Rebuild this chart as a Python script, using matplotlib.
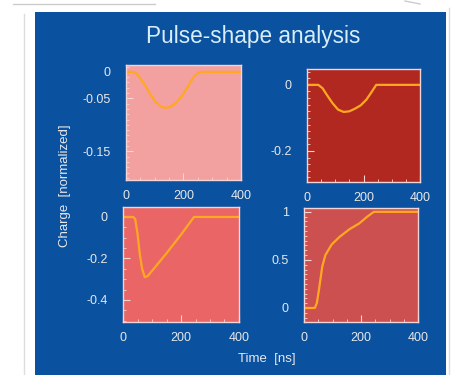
import matplotlib.pyplot as plt
from matplotlib.patches import Rectangle
from matplotlib.lines import Line2D
from matplotlib.ticker import MultipleLocator

plt.rcParams['font.family'] = ['Liberation Sans', 'DejaVu Sans']

# pulse shapes (time in ns, charge normalized)
t_a = [0, 20, 30, 40, 60, 80, 100, 120, 136, 155, 175, 195, 215, 235, 250, 262, 300, 400]
q_a = [0, 0, -0.001, -0.005, -0.02, -0.038, -0.055, -0.065, -0.068, -0.066, -0.058, -0.045, -0.028, -0.01, -0.002, 0, 0, 0]

t_b = [0, 40, 55, 70, 90, 110, 130, 150, 170, 190, 210, 230, 245, 400]
q_b = [0, 0, -0.01, -0.03, -0.055, -0.075, -0.082, -0.08, -0.072, -0.062, -0.045, -0.02, 0, 0]

t_c = [0, 35, 42, 50, 58, 66, 75, 85, 100, 150, 200, 245, 400]
q_c = [0, 0, -0.01, -0.08, -0.18, -0.25, -0.29, -0.285, -0.26, -0.175, -0.085, 0, 0]

t_d = [0, 38, 45, 52, 64, 75, 97, 125, 160, 194, 222, 245, 400]
q_d = [0, 0, 0.05, 0.18, 0.43, 0.55, 0.66, 0.74, 0.82, 0.88, 0.95, 1.0, 1.0]

panels = [
    (t_a, q_a, '#f2a0a0', (-0.204, 0.013), [0, -0.05, -0.15], ['0', '-0.05', '-0.15'], 0.01),
    (t_b, q_b, '#b02820', (-0.294, 0.048), [0, -0.2], ['0', '-0.2'], 0.02),
    (t_c, q_c, '#ea6666', (-0.506, 0.048), [0, -0.2, -0.4], ['0', '-0.2', '-0.4'], 0.05),
    (t_d, q_d, '#cc5050', (-0.146, 1.04), [0, 0.5, 1], ['0', '0.5', '1'], 0.05),
]

# axes boxes in pixels: left, top, right, bottom
boxes = [(126, 65, 241, 180), (307, 69, 420, 182), (123, 207, 239, 322), (304, 208, 418, 322)]

W, H = 458, 375
fig = plt.figure(figsize=(W / 100, H / 100), dpi=100)
fig.patch.set_facecolor('white')

# blue background panel and the faint frame lines
fig.patches.append(Rectangle((35 / W, 0), 411 / W, (H - 12) / H, transform=fig.transFigure,
                             facecolor='#0a51a0', edgecolor='none', zorder=-5))
fig.lines.append(Line2D([24 / W, 24 / W], [0, 1 - 14 / H], transform=fig.transFigure, color='#dddddd', lw=1, zorder=-5))
fig.lines.append(Line2D([449 / W, 449 / W], [0, 1 - 8 / H], transform=fig.transFigure, color='#dddddd', lw=1, zorder=-5))
fig.lines.append(Line2D([13 / W, 155 / W], [1 - 4 / H, 1 - 4 / H], transform=fig.transFigure, color='#cccccc', lw=1, zorder=-5))
fig.lines.append(Line2D([405 / W, 420 / W], [1 - 1 / H, 1 - 4 / H], transform=fig.transFigure, color='#cccccc', lw=1, zorder=-5))

for (t, q, face, ylim, yt, ylab, minor), (l, tp, r, b) in zip(panels, boxes):
    ax = fig.add_axes([l / W, 1 - b / H, (r - l) / W, (b - tp) / H])
    ax.set_facecolor(face)
    ax.plot(t, q, color='#ffa820', lw=1.6)
    ax.set_xlim(0, 400)
    ax.set_ylim(*ylim)
    ax.set_xticks([0, 200, 400])
    ax.set_xticklabels(['0', '200', '400'])
    ax.xaxis.set_minor_locator(MultipleLocator(50))
    ax.set_yticks(yt)
    ax.set_yticklabels(ylab)
    ax.yaxis.set_minor_locator(MultipleLocator(minor))
    ax.tick_params(which='both', direction='in', colors='#f4d4d4', labelcolor='#e8e8e8',
                   labelsize=9, top=False, right=False)
    ax.tick_params(which='major', length=5, width=0.8)
    ax.tick_params(which='minor', length=2.5, width=0.6)
    ax.tick_params(axis='y', which='major', pad=11)
    ax.tick_params(axis='x', which='major', pad=7)
    for s in ax.spines.values():
        s.set_color('#f4d4d4')
        s.set_linewidth(1)

fig.text(253 / W, 1 - 37 / H, 'Pulse-shape analysis', ha='center', va='center',
         color='#d8eef8', fontsize=16.3)
fig.text(65 / W, 1 - 186 / H, 'Charge  [normalized]', ha='center', va='center',
         rotation=90, color='#e8e8e8', fontsize=9.5)
fig.text(267 / W, 1 - 359 / H, 'Time  [ns]', ha='center', va='center',
         color='#e8e8e8', fontsize=9.5)

fig.savefig('out.png', dpi=100)
